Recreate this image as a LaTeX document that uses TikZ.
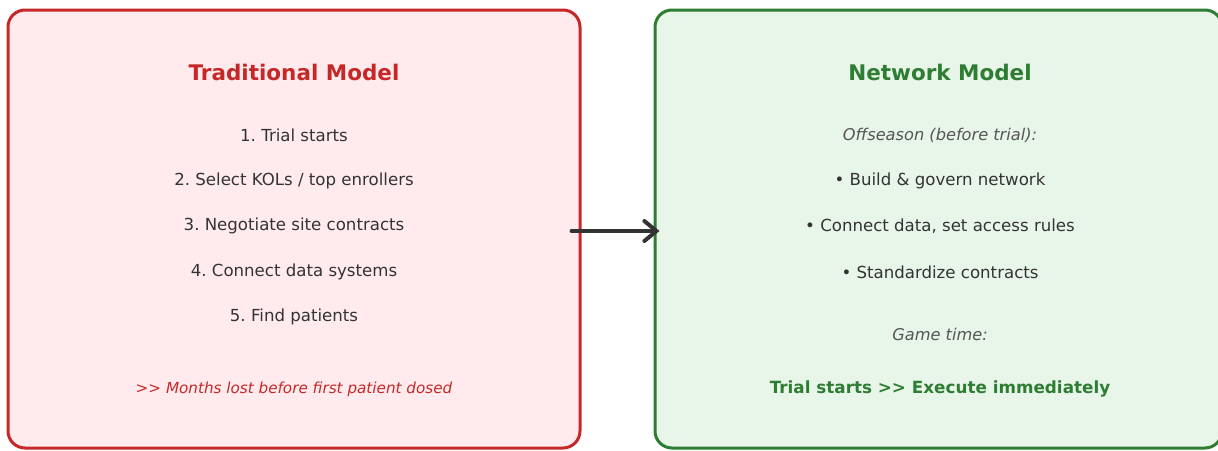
\documentclass[tikz,border=0pt]{standalone}
\usepackage{fontspec}
\setmainfont{DejaVu Sans}
\frenchspacing
\usetikzlibrary{arrows.meta, positioning}
\definecolor{TMred}{HTML}{C62828}
\definecolor{TMredfill}{HTML}{FFEBEE}
\definecolor{NMgreen}{HTML}{2E7D32}
\definecolor{NMgreenfill}{HTML}{E8F5E9}
\definecolor{textgrey}{HTML}{333333}
\definecolor{notegrey}{HTML}{555555}

\begin{document}
\begin{tikzpicture}[x=1pt, y=-1pt, >=Stealth,
    panel/.style={draw, line width=3pt, rounded corners=17pt, inner sep=0pt,
      minimum width=572pt, minimum height=438pt},
    title/.style={font=\fontsize{21.5}{25}\selectfont\bfseries},
    item/.style={font=\fontsize{16.6}{20}\selectfont, text=textgrey},
    note/.style={font=\fontsize{16.2}{20}\selectfont\itshape, text=notegrey}]
    \clip (0,0) rectangle (1218,450);
    % Traditional model
    \node[panel, draw=TMred, fill=TMredfill] (trad) at (294,229) {};
    \node[title, text=TMred] (tradtitle) at (294,72) {Traditional Model};
    \foreach \y/\txt [count=\i] in {135/1. Trial starts, 181/{2. Select KOLs / top enrollers},
        226/3. Negotiate site contracts, 272/4. Connect data systems, 317/5. Find patients}{
      \node[item] (step\i) at (294,\y) {\txt};
    }
    \node[note, text=TMred, font=\fontsize{15.2}{18}\selectfont\itshape] (tradlost) at (294,389)
      {>{}> Months lost before first patient dosed};
    % Network model
    \node[panel, draw=NMgreen, fill=NMgreenfill, minimum width=567pt] (net) at (938.5,229) {};
    \node[title, text=NMgreen] (nettitle) at (940,72) {Network Model};
    \node[note] (offseason) at (940,135) {Offseason (before trial):};
    \foreach \y/\txt [count=\i] in {181/Build \& govern network,
        226/{Connect data, set access rules}, 272/Standardize contracts}{
      \node[item] (prep\i) at (940,\y) {\textbullet\ \txt};
    }
    \node[note] (gametime) at (940,334) {Game time:};
    \node[title, text=NMgreen, font=\fontsize{16.8}{20}\selectfont\bfseries] (execute) at (940,389)
      {Trial starts >{}> Execute immediately};
    % Arrow
    \draw[->, textgrey, line width=4pt, line cap=round,
      arrows={-Straight Barb[length=12pt, width=20pt, line cap=round]},
      shorten <=-10pt, shorten >=-6pt] (trad.east |- 0,231) -- (net.west |- 0,231);
\end{tikzpicture}
\end{document}
